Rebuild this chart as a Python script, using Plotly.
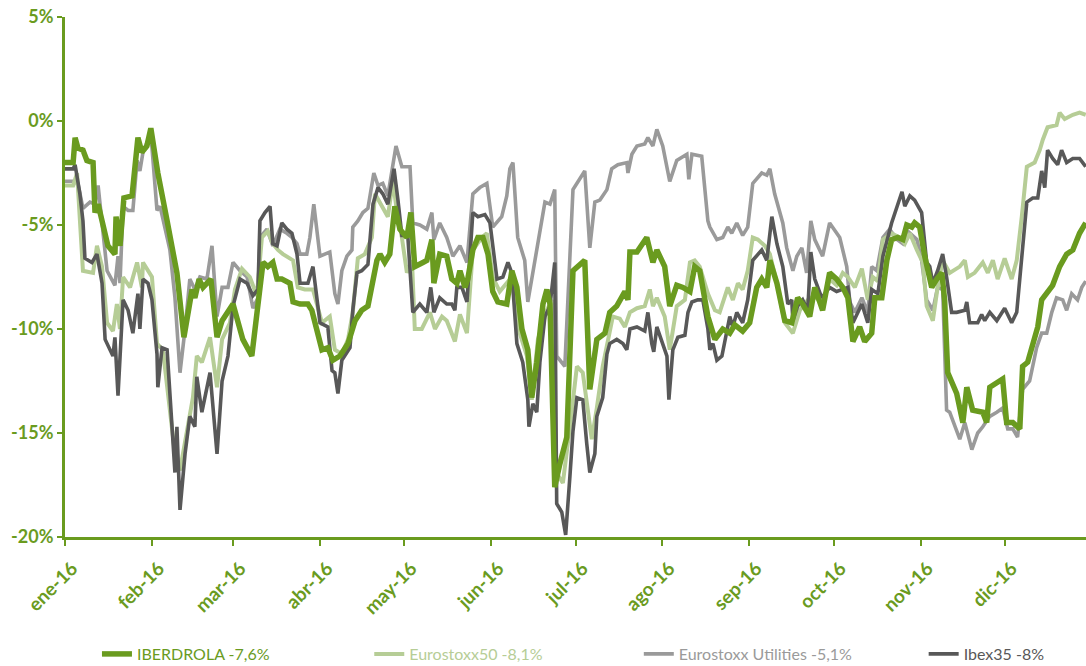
import pandas as pd
import plotly.graph_objects as go

# ---- data (day offsets from 1 Jan 2016, % change) ----
iber_day = [0, 2.9, 3.6, 4.6, 6.4, 7.8, 10.0, 10.7, 11.8, 13.5, 15.3, 17.8, 18.2, 19.6, 21.0, 23.9, 24.9, 26.0, 27.4, 29.2,
            30.6, 33.1, 36.4, 39.9, 42.4, 45.3, 46.3, 47.8, 49.2, 52.0, 54.2, 56.0, 59.9, 63.4, 66.6, 68.8, 70.6, 72.3, 74.1, 75.6,
            77.3, 80.2, 81.3, 83.8, 86.6, 88.0, 89.8, 91.6, 93.7, 95.5, 98.0, 100.9, 103.4, 105.8, 108.0, 109.8, 111.2, 112.3, 114.0, 115.8,
            117.6, 119.4, 121.9, 123.3, 124.7, 127.6, 129.0, 130.8, 131.5, 133.6, 136.1, 137.9, 139.7, 140.8, 142.6, 143.6, 145.4, 147.2, 149.0, 150.8,
            152.5, 154.3, 157.5, 159.3, 161.1, 162.9, 165.0, 166.4, 168.2, 170.4, 171.8, 172.9, 174.6, 176.4, 178.9, 181.1, 182.8, 185.3, 187.1, 189.6,
            192.5, 194.2, 196.7, 199.6, 200.7, 201.4, 203.9, 207.4, 209.6, 211.0, 213.8, 215.6, 218.1, 220.3, 222.8, 224.5, 226.3, 229.2, 231.7, 234.5,
            237.0, 238.8, 241.6, 244.1, 246.6, 248.4, 250.2, 251.3, 253.8, 256.6, 259.1, 261.2, 263.0, 265.5, 267.3, 270.1, 272.6, 275.1, 277.3, 279.1,
            280.9, 283.3, 285.1, 287.6, 288.7, 291.2, 293.0, 294.7, 296.9, 298.7, 300.1, 301.9, 302.9, 304.7, 306.5, 309.0, 310.8, 312.6, 313.6, 314.7,
            317.9, 320.1, 321.5, 323.6, 327.2, 328.6, 329.7, 332.2, 334.3, 335.7, 337.9, 340.4, 341.4, 343.2, 344.6, 346.8, 348.2, 350.0, 352.1, 354.6,
            357.1, 359.3, 361.7, 363.9]
iber_val = [-2.0, -2.0, -0.8, -1.3, -1.4, -1.9, -2.0, -4.4, -4.0, -4.9, -6.0, -6.4, -4.6, -6.0, -3.7, -3.6, -2.5, -0.8, -1.5, -1.2,
            -0.35, -2.5, -4.8, -7.3, -10.4, -8.1, -8.5, -7.6, -8.0, -7.6, -10.4, -9.6, -8.8, -10.5, -11.3, -8.5, -6.8, -7.0, -6.8, -7.6,
            -7.6, -7.8, -8.7, -8.8, -8.8, -9.1, -10.0, -11.0, -10.9, -11.5, -11.3, -10.7, -9.6, -9.1, -8.9, -7.5, -6.7, -6.4, -6.8, -6.4,
            -4.1, -5.2, -5.6, -4.4, -7.0, -6.8, -6.7, -5.7, -7.8, -6.4, -6.5, -7.6, -7.8, -7.2, -8.0, -7.6, -6.2, -5.6, -5.6, -6.4,
            -8.2, -8.7, -8.8, -7.2, -8.0, -10.0, -11.0, -13.3, -11.6, -8.8, -8.1, -8.8, -17.6, -16.5, -15.2, -7.2, -7.0, -6.7, -12.9, -10.5,
            -10.2, -9.2, -8.9, -8.2, -8.6, -6.3, -6.3, -5.6, -6.8, -6.2, -7.0, -8.9, -7.9, -8.0, -8.2, -7.0, -7.2, -9.4, -10.5, -10.0,
            -10.2, -9.8, -10.1, -9.7, -8.0, -7.6, -8.0, -6.7, -7.8, -9.6, -9.7, -8.5, -8.8, -9.4, -8.0, -9.1, -7.3, -7.6, -8.0, -8.5,
            -10.6, -9.9, -10.6, -10.2, -8.5, -8.5, -6.7, -5.7, -5.6, -5.7, -5.0, -5.1, -4.9, -5.1, -6.5, -8.0, -7.6, -7.3, -8.6, -12.1,
            -13.1, -14.5, -12.8, -13.9, -14.0, -14.5, -12.8, -12.6, -12.4, -14.5, -14.5, -14.8, -11.8, -11.6, -10.9, -9.9, -8.6, -8.3, -7.9, -7.0,
            -6.4, -6.2, -5.4, -4.9]

euro_day = [0, 2.9, 4.3, 6.4, 10.0, 11.4, 13.2, 15.0, 17.1, 18.5, 19.6, 20.7, 23.2, 25.7, 27.4, 27.8, 31.0, 32.8, 34.9, 37.4,
            39.2, 41.0, 43.8, 45.6, 47.0, 48.8, 51.7, 54.2, 56.0, 58.8, 60.6, 63.1, 65.9, 68.4, 70.2, 72.3, 74.1, 75.9, 77.7, 81.3,
            83.0, 85.5, 88.4, 91.6, 94.4, 96.2, 98.7, 100.9, 102.6, 104.4, 106.9, 109.4, 110.5, 113.0, 115.1, 116.9, 118.3, 120.1, 121.9, 123.7,
            124.7, 127.2, 130.1, 131.9, 134.4, 136.1, 139.0, 140.8, 143.3, 145.4, 148.6, 150.4, 152.5, 155.0, 157.5, 159.3, 161.4, 164.7, 166.4, 168.6,
            171.8, 173.6, 174.6, 177.5, 180.0, 182.5, 184.6, 187.8, 189.6, 191.7, 195.3, 197.8, 199.6, 201.4, 203.9, 206.7, 208.5, 209.6, 211.0, 213.8,
            215.6, 218.1, 221.0, 222.8, 224.5, 226.3, 229.2, 231.7, 233.4, 236.3, 238.1, 239.9, 241.6, 243.4, 245.2, 247.0, 249.5, 251.3, 253.8, 256.6,
            259.5, 262.0, 263.7, 265.5, 268.0, 270.1, 272.6, 275.1, 277.3, 279.1, 281.6, 284.1, 286.2, 288.0, 289.8, 291.6, 294.7, 297.6, 299.4, 301.2,
            303.7, 305.8, 307.2, 309.4, 311.1, 312.9, 315.4, 319.0, 320.8, 321.9, 324.3, 327.2, 329.0, 330.8, 332.5, 335.0, 337.5, 339.3, 341.1, 342.9,
            345.7, 347.5, 348.6, 350.3, 353.5, 354.6, 356.4, 359.3, 361.7, 363.9]
euro_val = [-3.1, -3.1, -2.5, -7.2, -7.3, -6.0, -7.0, -9.7, -10.1, -8.8, -10.0, -7.5, -8.0, -6.8, -8.0, -6.8, -7.5, -10.7, -11.0, -13.9,
            -16.0, -16.8, -14.5, -13.3, -11.3, -11.6, -10.4, -12.8, -10.5, -9.7, -8.1, -7.1, -7.5, -8.4, -5.6, -5.3, -5.9, -6.2, -6.4, -6.7,
            -8.0, -8.1, -8.1, -9.7, -9.4, -11.0, -11.2, -10.5, -9.2, -6.6, -6.4, -5.6, -3.5, -4.1, -4.6, -2.9, -4.3, -5.6, -7.3, -6.7,
            -10.0, -10.0, -9.2, -10.0, -9.4, -9.6, -10.6, -9.3, -10.2, -6.2, -5.6, -5.4, -7.5, -8.2, -7.8, -7.5, -9.9, -11.3, -13.4, -10.5,
            -9.1, -8.6, -16.8, -17.4, -14.7, -11.8, -12.1, -15.3, -13.8, -11.8, -9.4, -9.5, -9.9, -9.2, -9.0, -8.9, -8.1, -8.9, -8.5, -9.4,
            -11.0, -8.9, -8.6, -6.8, -6.7, -7.0, -8.3, -9.1, -9.2, -8.0, -8.6, -7.8, -8.1, -7.2, -5.6, -5.7, -6.0, -6.4, -7.8, -9.7,
            -10.2, -9.1, -8.8, -8.5, -8.5, -8.9, -7.6, -7.9, -7.3, -7.5, -8.0, -7.1, -8.6, -7.5, -7.7, -5.7, -5.4, -5.6, -5.9, -5.4,
            -6.2, -6.8, -8.9, -9.6, -8.0, -6.7, -7.3, -7.0, -6.7, -7.5, -7.3, -6.8, -7.3, -6.7, -7.6, -6.6, -7.6, -6.7, -4.6, -2.2,
            -2.0, -1.4, -0.9, -0.3, -0.2, 0.4, 0.1, 0.3, 0.4, 0.3]

util_day = [0, 2.9, 4.6, 6.4, 8.9, 10.7, 11.8, 13.2, 15.0, 17.8, 18.9, 19.6, 20.7, 22.5, 24.2, 25.7, 26.7, 27.8, 30.6, 32.8,
            33.9, 37.4, 39.2, 41.0, 42.8, 44.5, 46.3, 48.1, 50.6, 52.4, 54.2, 56.0, 58.1, 59.9, 62.4, 64.9, 67.0, 68.8, 69.5, 72.0,
            74.1, 76.6, 79.1, 80.9, 82.7, 83.8, 86.2, 87.3, 88.7, 90.9, 92.7, 94.4, 96.2, 97.3, 98.7, 100.5, 102.3, 102.6, 104.4, 106.2,
            108.0, 110.1, 111.6, 113.3, 115.1, 116.9, 118.0, 120.1, 123.0, 124.0, 126.5, 129.0, 130.8, 131.5, 133.6, 136.1, 138.3, 140.8, 143.3, 145.4,
            147.9, 150.4, 152.5, 155.7, 157.5, 158.6, 159.7, 161.4, 163.9, 165.0, 166.8, 168.6, 171.1, 172.9, 174.6, 175.3, 178.2, 181.1, 183.5, 185.3,
            187.1, 188.9, 190.7, 193.2, 194.9, 197.1, 200.3, 200.7, 202.1, 203.9, 206.7, 207.8, 209.6, 211.0, 213.1, 215.6, 218.1, 220.3, 221.7, 222.4,
            223.5, 227.0, 229.2, 229.9, 232.4, 234.5, 236.3, 237.7, 239.5, 241.6, 243.4, 245.2, 248.4, 250.2, 251.3, 253.0, 255.9, 257.3, 259.5, 260.9,
            262.7, 264.4, 265.9, 267.3, 270.1, 272.6, 276.2, 278.7, 279.8, 281.6, 284.1, 286.2, 287.6, 289.4, 291.6, 294.0, 296.6, 298.7, 300.5, 303.7,
            305.4, 307.2, 309.4, 311.1, 312.9, 314.3, 315.4, 319.0, 320.8, 323.3, 325.4, 327.2, 329.7, 332.2, 334.3, 336.1, 337.9, 339.6, 341.4, 343.9,
            346.4, 348.2, 350.0, 351.8, 353.5, 355.7, 357.1, 358.9, 361.0, 362.5, 363.9]
util_val = [-2.9, -2.9, -3.0, -4.2, -3.9, -4.0, -3.1, -4.8, -7.2, -7.9, -6.5, -7.8, -4.1, -4.3, -4.3, -1.9, -2.4, -1.5, -0.6, -4.3,
            -4.1, -6.2, -8.5, -12.1, -10.0, -7.6, -8.1, -7.5, -7.6, -6.0, -9.4, -8.0, -8.0, -6.8, -7.2, -7.5, -9.0, -8.5, -5.6, -5.2,
            -6.0, -5.2, -5.4, -5.6, -5.9, -6.4, -6.4, -5.6, -4.0, -6.5, -6.4, -6.3, -8.3, -8.8, -7.2, -6.5, -6.2, -5.1, -4.8, -4.4,
            -4.2, -2.5, -3.1, -3.0, -3.6, -2.0, -1.2, -2.2, -2.2, -4.9, -5.0, -5.2, -4.4, -5.7, -4.9, -5.6, -6.5, -6.0, -6.8, -3.5,
            -3.2, -3.0, -5.1, -4.6, -3.6, -2.3, -2.0, -5.6, -6.7, -8.7, -7.3, -5.7, -3.9, -4.0, -3.3, -11.3, -11.8, -3.3, -2.8, -2.4,
            -6.1, -3.9, -3.8, -3.3, -2.3, -2.1, -2.0, -2.5, -1.6, -1.2, -1.1, -0.8, -1.2, -0.4, -1.2, -2.9, -1.9, -1.7, -1.6, -2.8,
            -1.6, -1.7, -4.8, -5.1, -5.7, -5.6, -5.1, -5.4, -4.9, -5.5, -5.1, -3.0, -2.5, -2.6, -2.3, -3.5, -4.9, -6.1, -7.2, -6.5,
            -6.1, -7.3, -4.8, -5.7, -6.5, -4.9, -5.6, -7.0, -8.7, -9.2, -8.5, -9.2, -7.0, -7.2, -5.6, -5.2, -5.7, -5.9, -5.3, -5.7,
            -6.7, -8.6, -9.1, -8.0, -8.1, -13.9, -14.0, -15.3, -14.5, -15.8, -15.0, -14.7, -14.2, -14.0, -13.8, -14.8, -14.8, -15.2, -12.9, -12.5,
            -10.9, -10.2, -10.2, -9.2, -8.5, -8.6, -9.1, -8.3, -8.6, -8.0, -7.7]

ibex_day = [0, 2.9, 3.6, 5.3, 6.4, 7.1, 9.6, 11.4, 13.2, 14.3, 17.1, 17.8, 18.9, 20.7, 22.5, 24.2, 26.0, 26.7, 27.8, 29.6,
            31.0, 32.8, 33.1, 34.6, 36.4, 38.1, 39.2, 39.9, 41.0, 42.8, 44.5, 46.3, 47.0, 48.8, 51.7, 54.2, 56.0, 58.1, 59.9, 62.4,
            64.9, 67.0, 68.8, 69.5, 71.3, 73.1, 74.1, 75.6, 77.3, 79.1, 80.9, 82.7, 83.8, 86.6, 88.4, 90.9, 93.7, 95.2, 96.2, 97.3,
            98.7, 101.6, 102.6, 104.1, 105.8, 108.0, 109.8, 111.6, 113.3, 115.1, 117.3, 118.7, 120.1, 122.2, 124.0, 126.5, 129.0, 130.4, 131.5, 133.6,
            136.1, 137.9, 139.0, 139.7, 141.5, 143.3, 145.4, 147.2, 149.7, 151.5, 152.5, 154.0, 156.1, 157.9, 159.3, 161.1, 163.2, 165.0, 165.4, 166.8,
            168.2, 169.3, 171.1, 172.9, 174.6, 175.3, 177.1, 178.5, 180.0, 181.1, 182.5, 184.6, 186.0, 187.1, 188.9, 189.6, 191.7, 193.2, 194.2, 196.7,
            198.9, 200.3, 201.4, 203.9, 206.7, 207.8, 209.2, 209.9, 211.0, 213.1, 214.6, 215.3, 216.7, 218.5, 221.0, 222.1, 223.5, 225.6, 227.4, 229.2,
            229.9, 231.0, 232.4, 234.2, 236.0, 237.0, 238.1, 239.5, 241.6, 243.4, 245.2, 248.4, 250.2, 252.0, 253.8, 255.9, 257.7, 259.1, 259.5, 261.2,
            263.0, 264.8, 265.9, 267.3, 269.8, 272.6, 275.1, 277.3, 279.1, 280.9, 284.1, 286.2, 287.6, 289.8, 291.6, 294.7, 296.6, 298.4, 299.4, 301.2,
            302.9, 305.4, 307.2, 308.3, 309.4, 311.1, 312.9, 314.3, 316.1, 317.9, 320.8, 321.5, 322.5, 325.4, 326.8, 327.9, 329.7, 332.2, 335.0, 337.5,
            339.3, 341.1, 342.9, 345.0, 346.8, 348.2, 349.3, 350.3, 352.1, 353.9, 355.3, 357.1, 359.3, 361.7, 363.9]
ibex_val = [-2.3, -2.3, -2.1, -3.5, -4.8, -6.6, -6.8, -6.4, -7.8, -10.5, -11.3, -10.4, -13.2, -8.6, -9.1, -10.2, -8.3, -10.0, -7.6, -7.8,
            -8.6, -11.2, -12.8, -10.9, -11.0, -14.5, -16.9, -14.7, -18.7, -16.0, -14.2, -14.7, -12.3, -14.0, -12.1, -16.0, -12.5, -11.3, -8.9, -7.6,
            -7.8, -8.4, -8.1, -4.8, -4.4, -4.1, -5.9, -6.0, -4.9, -5.2, -5.4, -6.4, -7.8, -7.8, -7.0, -9.7, -9.9, -12.0, -12.1, -13.1,
            -11.5, -10.9, -9.1, -7.3, -7.2, -6.9, -4.0, -3.2, -3.5, -4.0, -2.3, -3.8, -5.5, -5.5, -9.2, -8.8, -9.2, -8.0, -9.2, -8.5,
            -8.8, -8.8, -9.1, -8.0, -8.0, -8.7, -4.4, -4.6, -4.5, -4.9, -6.0, -7.6, -7.5, -6.8, -7.3, -10.7, -11.6, -13.4, -14.7, -13.6,
            -14.0, -11.6, -9.4, -8.9, -6.8, -18.4, -18.8, -19.9, -17.1, -14.9, -13.3, -13.4, -15.5, -16.9, -16.0, -14.2, -13.3, -11.2, -10.7, -10.5,
            -10.7, -11.0, -10.0, -9.9, -10.1, -9.2, -10.7, -11.1, -9.9, -10.7, -11.3, -13.4, -11.0, -10.4, -10.3, -9.2, -8.7, -8.6, -8.6, -10.0,
            -11.0, -10.7, -11.5, -11.3, -10.0, -9.4, -9.9, -9.2, -9.7, -8.6, -6.7, -6.2, -6.7, -4.6, -5.9, -7.0, -8.8, -8.6, -9.6, -8.9,
            -8.6, -9.1, -6.3, -7.6, -8.5, -8.0, -8.2, -8.1, -8.0, -9.7, -8.8, -9.7, -8.1, -8.3, -6.5, -4.9, -4.1, -3.4, -4.1, -3.6,
            -3.8, -4.4, -6.8, -7.0, -7.8, -7.2, -6.4, -7.5, -9.2, -9.2, -9.1, -8.7, -9.7, -9.7, -9.3, -9.6, -9.2, -9.6, -9.0, -9.7,
            -9.2, -6.5, -3.9, -3.7, -3.7, -2.4, -3.2, -1.4, -1.8, -2.1, -1.4, -2.0, -1.8, -1.8, -2.2]

series_names = ["IBERDROLA -7,6%", "Eurostoxx50 -8,1%", "Eurostoxx Utilities -5,1%", "Ibex35 -8%"]
month_ticks = ["2016-01-01", "2016-02-01", "2016-03-01", "2016-04-01", "2016-05-01", "2016-06-01",
               "2016-07-01", "2016-08-01", "2016-09-01", "2016-10-01", "2016-11-01", "2016-12-01"]
month_labels = ["ene-16", "feb-16", "mar-16", "abr-16", "may-16", "jun-16",
                "jul-16", "ago-16", "sep-16", "oct-16", "nov-16", "dic-16"]
y_ticks = [-20, -15, -10, -5, 0, 5]
y_labels = ["-20%", "-15%", "-10%", "-5%", "0%", "5%"]

# ---- styling ----
GREEN = "#6a9b1f"
colors = ["#6a9b1f", "#b6cd96", "#9a9a9a", "#585858"]
widths = [5.5, 4, 3.6, 3.6]
TICKFONT = "Lato, 'Noto Sans', sans-serif"
legend_x = [0.0313, 0.298, 0.562, 0.841]   # left edge of each legend entry (paper fraction)
legend_ids = ["legend", "legend2", "legend3", "legend4"]

base = pd.Timestamp("2016-01-01")


def to_dates(days):
    return base + pd.to_timedelta(days, unit="D")


data = [(iber_day, iber_val), (euro_day, euro_val), (util_day, util_val), (ibex_day, ibex_val)]
draw_order = [2, 1, 3, 0]

fig = go.Figure()
for i in draw_order:
    d, v = data[i]
    fig.add_trace(go.Scatter(
        x=to_dates(d), y=v, mode="lines",
        name=series_names[i],
        line=dict(color=colors[i], width=widths[i]),
        legend=legend_ids[i],
    ))

legend_layout = {}
for i, lid in enumerate(legend_ids):
    legend_layout[lid] = dict(
        orientation="h", x=legend_x[i], xanchor="left",
        yref="container", y=0.018, yanchor="middle",
        font=dict(family=TICKFONT, size=16, color=colors[i]),
        bgcolor="rgba(0,0,0,0)", itemwidth=30,
    )

fig.update_layout(
    width=1086, height=666,
    margin=dict(l=65, r=0, t=17, b=129),
    paper_bgcolor="white", plot_bgcolor="white",
    font=dict(family=TICKFONT, color=GREEN),
    showlegend=True,
    **legend_layout,
)
fig.update_xaxes(
    type="date", automargin=False,
    range=[base, base + pd.Timedelta(days=364)],
    tickvals=month_ticks, ticktext=month_labels, tickangle=-45,
    tickfont=dict(size=19, color=GREEN, family=TICKFONT, weight="bold"),
    ticklabelstandoff=4, ticklabelshift=7,
    showline=True, linecolor=GREEN, linewidth=3,
    ticks="outside", tickcolor=GREEN, ticklen=6, tickwidth=2,
    showgrid=False, zeroline=False,
)
fig.update_yaxes(
    range=[-20, 5], automargin=False,
    tickvals=y_ticks, ticktext=y_labels,
    tickfont=dict(size=18, color=GREEN, family=TICKFONT, weight="bold"),
    showline=True, linecolor=GREEN, linewidth=3,
    ticks="outside", tickcolor=GREEN, ticklen=5, tickwidth=2,
    showgrid=False, zeroline=False,
)

fig.write_html(
    "out.html",
    config={"displayModeBar": False},
    post_script="document.body.style.margin='0';document.body.style.overflow='hidden';",
)
